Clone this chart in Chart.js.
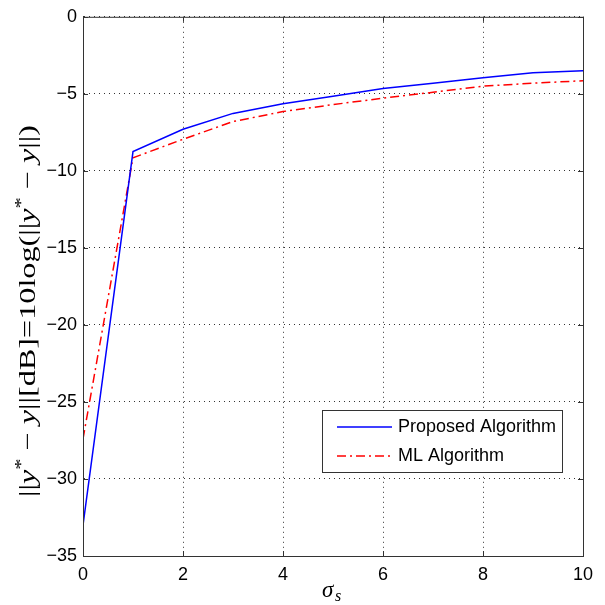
<!DOCTYPE html>
<html>
<head>
<meta charset="utf-8">
<script src="https://cdn.jsdelivr.net/npm/chart.js@4"></script>
<style>
  html, body { margin: 0; padding: 0; background: #fff; }
  #wrap { width: 605px; height: 605px; }
</style>
</head>
<body>
<div id="wrap"><canvas id="chart" width="605" height="605"></canvas></div>
<script>
// data
const sigma = [0, 1, 2, 3, 4, 5, 6, 7, 8, 9, 10];
const proposed = [-33.0, -8.75, -7.3, -6.27, -5.65, -5.15, -4.66, -4.31, -3.95, -3.63, -3.5];
const mlAlg = [-27.4, -9.15, -7.95, -6.8, -6.15, -5.7, -5.28, -4.9, -4.5, -4.31, -4.15];
const xTicks = [0, 2, 4, 6, 8, 10];
const yTicks = [0, -5, -10, -15, -20, -25, -30, -35];

const ctx = document.getElementById('chart').getContext('2d');

const SERIF = '"Liberation Serif", "DejaVu Serif", serif';
const SANS = '"Liberation Sans", Arial, sans-serif';

// y title pieces: [text, style] with style n = normal, i = italic, s = superscript
const yTitle = [
  ['||', 'n'], ['y', 'i'], ['*', 's'], [' − ', 'n'], ['y', 'i'],
  ['||[dB]=10log(||', 'n'], ['y', 'i'], ['*', 's'], [' − ', 'n'], ['y', 'i'], ['||)', 'n']
];

function pieceFont(style, size) {
  if (style === 'i') return 'italic ' + size + 'px ' + SERIF;
  if (style === 's') return Math.round(size * 0.7) + 'px ' + SERIF;
  return size + 'px ' + SERIF;
}

const framePlugin = {
  id: 'frame',
  afterDraw(chart) {
    const a = chart.chartArea;
    const c = chart.ctx;
    const xs = chart.scales.x, ys = chart.scales.y;
    c.save();
    c.strokeStyle = '#333';
    c.lineWidth = 1;
    c.setLineDash([]);
    c.strokeRect(a.left + 0.5, a.top + 0.5, a.right - a.left, a.bottom - a.top);
    c.beginPath();
    xTicks.forEach(v => {
      const px = Math.round(xs.getPixelForValue(v)) + 0.5;
      c.moveTo(px, a.bottom); c.lineTo(px, a.bottom - 5);
      c.moveTo(px, a.top); c.lineTo(px, a.top + 5);
    });
    yTicks.forEach(v => {
      const py = Math.round(ys.getPixelForValue(v)) + 0.5;
      c.moveTo(a.left, py); c.lineTo(a.left + 5, py);
      c.moveTo(a.right, py); c.lineTo(a.right - 5, py);
    });
    c.stroke();

    // legend
    const lx = 322, ly = 410, lw = 240, lh = 62;
    c.fillStyle = '#fff';
    c.fillRect(lx, ly, lw, lh);
    c.strokeStyle = '#333';
    c.strokeRect(lx + 0.5, ly + 0.5, lw, lh);
    c.font = '18px ' + SANS;
    c.textBaseline = 'middle';
    chart.data.datasets.forEach((ds, i) => {
      const yy = ly + 17 + i * 29;
      c.beginPath();
      c.strokeStyle = ds.borderColor;
      c.lineWidth = ds.borderWidth;
      c.setLineDash(ds.borderDash || []);
      c.moveTo(337, yy); c.lineTo(392, yy);
      c.stroke();
      c.setLineDash([]);
      c.fillStyle = '#000';
      c.fillText(ds.label, 398, yy);
    });

    // x title: sigma with subscript s
    c.fillStyle = '#000';
    c.textBaseline = 'alphabetic';
    c.font = 'italic 23px ' + SERIF;
    c.fillText('σ', 322, 597);
    c.font = 'italic 16px ' + SERIF;
    c.fillText('s', 335, 601);

    // y title, rotated and stretched to the length seen in the picture
    const size = 23;
    let total = 0;
    yTitle.forEach(p => { c.font = pieceFont(p[1], size); total += c.measureText(p[0]).width; });
    c.translate(35, 311);
    c.rotate(-Math.PI / 2);
    c.scale(372 / total, 1);
    let x = -total / 2;
    yTitle.forEach(p => {
      c.font = pieceFont(p[1], size);
      c.fillText(p[0], x, p[1] === 's' ? -9 : 0);
      x += c.measureText(p[0]).width;
    });
    c.restore();
  }
};

new Chart(ctx, {
  type: 'line',
  data: {
    labels: sigma,
    datasets: [
      {
        label: 'Proposed Algorithm',
        data: proposed,
        borderColor: '#0000ff',
        borderWidth: 1.5,
        pointRadius: 0,
        tension: 0
      },
      {
        label: 'ML Algorithm',
        data: mlAlg,
        borderColor: '#ff0000',
        borderWidth: 1.5,
        borderDash: [9, 4, 2, 4],
        pointRadius: 0,
        tension: 0
      }
    ]
  },
  options: {
    responsive: false,
    animation: false,
    layout: { padding: { top: 16, right: 22, left: 0, bottom: 0 } },
    plugins: {
      legend: { display: false },
      tooltip: { enabled: false }
    },
    scales: {
      x: {
        type: 'linear',
        min: 0,
        max: 10,
        afterFit: s => { s.height = 49; },
        afterBuildTicks: s => { s.ticks = xTicks.map(v => ({ value: v })); },
        grid: { color: '#333', drawTicks: false, lineWidth: 1 },
        border: { display: true, color: '#333', dash: [1, 4] },
        ticks: {
          padding: 8,
          color: '#000',
          font: { family: SANS, size: 18 }
        }
      },
      y: {
        min: -35,
        max: 0,
        afterFit: s => { s.width = 83; },
        afterBuildTicks: s => { s.ticks = yTicks.map(v => ({ value: v })); },
        grid: { color: '#333', drawTicks: false, lineWidth: 1 },
        border: { display: true, color: '#333', dash: [1, 4] },
        ticks: {
          padding: 6,
          color: '#000',
          font: { family: SANS, size: 18 },
          callback: v => String(v).replace('-', '\u2212')
        }
      }
    }
  },
  plugins: [framePlugin]
});
</script>
</body>
</html>
